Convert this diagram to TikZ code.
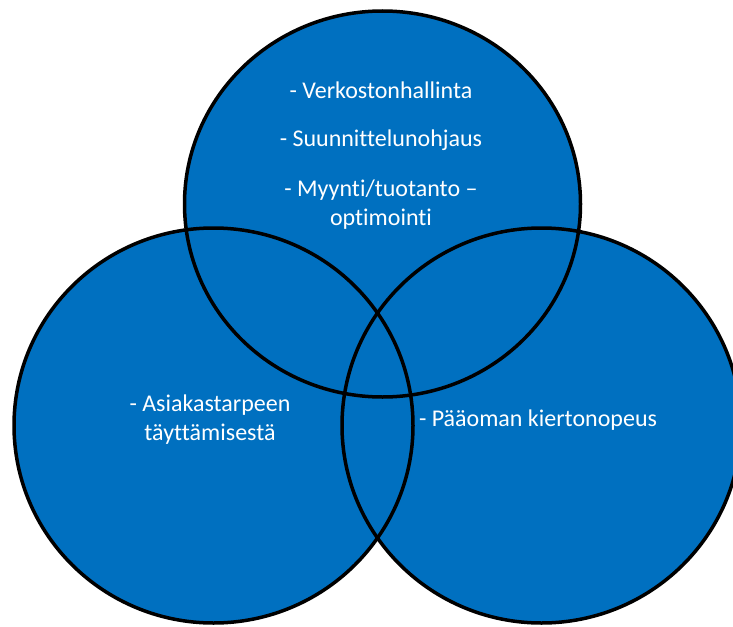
\documentclass[tikz,border=0pt]{standalone}
\usepackage{fontspec}
\setmainfont{Carlito}[Ligatures=NoCommon]
\definecolor{vennblue}{RGB}{0,112,192}
\begin{document}
\begin{tikzpicture}[x=1pt,y=-1pt,
  vtext/.style={text=white, font=\fontsize{24}{29}\selectfont, anchor=base, align=center, inner sep=0pt},
  vedge/.style={draw=black, line width=3.5pt}]
\useasboundingbox (0,0) rectangle (733,626);
\coordinate (ctop) at (382.5,204);
\coordinate (cleft) at (213.5,425.5);
\coordinate (cright) at (541.5,425.5);
\fill[vennblue] (ctop) ellipse [x radius=198pt, y radius=193pt];
\fill[vennblue] (cleft) ellipse [x radius=199.5pt, y radius=197.5pt];
\fill[vennblue] (cright) ellipse [x radius=199.5pt, y radius=197.5pt];
\draw[vedge] (ctop) ellipse [x radius=198pt, y radius=193pt];
\draw[vedge] (cleft) ellipse [x radius=199.5pt, y radius=197.5pt];
\draw[vedge] (cright) ellipse [x radius=199.5pt, y radius=197.5pt];
\node[vtext] (t1) at (381,98) {- Verkostonhallinta};
\node[vtext] (t2) at (381,146) {- Suunnittelunohjaus};
\node[vtext] (t3) at (381,225) {- Myynti/tuotanto –\\optimointi};
\node[vtext] (l1) at (210,440) {- Asiakastarpeen\\täyttämisestä};
\node[vtext] (r1) at (538,426) {- Pääoman kiertonopeus};
\end{tikzpicture}
\end{document}
